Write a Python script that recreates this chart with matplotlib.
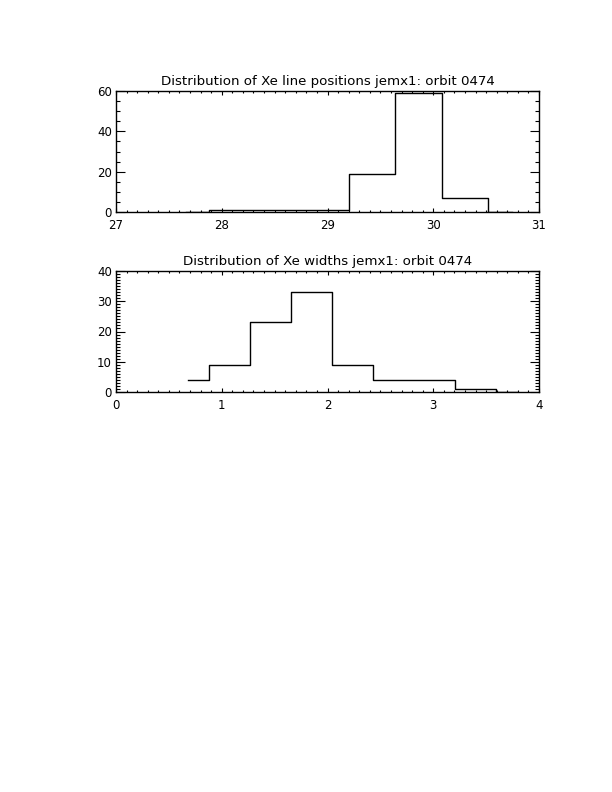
import matplotlib
matplotlib.use("Agg")
import matplotlib.pyplot as plt
from matplotlib.ticker import MultipleLocator, AutoMinorLocator

# Histogram of Xe line positions (bin centres and counts)
pos_centers = [27.66, 28.10, 28.54, 28.98, 29.42, 29.86, 30.30, 30.74]
pos_counts = [0, 1, 1, 1, 19, 59, 7, 0]

# Histogram of Xe line widths (bin centres and counts)
wid_centers = [0.684, 1.072, 1.460, 1.848, 2.236, 2.624, 3.012, 3.400, 3.788]
wid_counts = [4, 9, 23, 33, 9, 4, 4, 1, 0]

pos_title = "Distribution of Xe line positions jemx1: orbit 0474"
wid_title = "Distribution of Xe widths jemx1: orbit 0474"

W, H = 612, 792
fig = plt.figure(figsize=(W / 100, H / 100), dpi=100)
plt.rcParams["font.family"] = ["DejaVu Sans"]


def panel(top_px, bottom_px, x, y, title, xlim, ylim, ymajor, yminor_n):
    left_px, right_px = 116, 539
    ax = fig.add_axes([left_px / W, 1 - bottom_px / H,
                       (right_px - left_px) / W, (bottom_px - top_px) / H])
    ax.step(x, y, where="mid", color="black", lw=1.0, zorder=2)
    ax.set_xlim(*xlim)
    ax.set_ylim(*ylim)
    ax.xaxis.set_major_locator(MultipleLocator(1))
    ax.xaxis.set_minor_locator(AutoMinorLocator(10))
    ax.yaxis.set_major_locator(MultipleLocator(ymajor))
    ax.yaxis.set_minor_locator(AutoMinorLocator(yminor_n))
    ax.tick_params(axis="both", which="both", direction="in",
                   top=True, right=True, colors="black", labelsize=8.5)
    ax.tick_params(axis="x", which="major", length=2.6, width=0.8, pad=5)
    ax.tick_params(axis="x", which="minor", length=1.6, width=0.8)
    ax.tick_params(axis="y", which="major", length=6.2, width=0.8, pad=3)
    ax.tick_params(axis="y", which="minor", length=3.1, width=0.8)
    for s in ax.spines.values():
        s.set_linewidth(1.0)
        s.set_zorder(3)
    ax.set_title(title, fontsize=9.6, pad=4)
    return ax


panel(91, 212, pos_centers, pos_counts, pos_title, (27, 31), (0, 60), 20, 4)
panel(271, 392, wid_centers, wid_counts, wid_title, (0, 4), (0, 40), 10, 10)

fig.savefig("out.png", dpi=100, facecolor="white")
